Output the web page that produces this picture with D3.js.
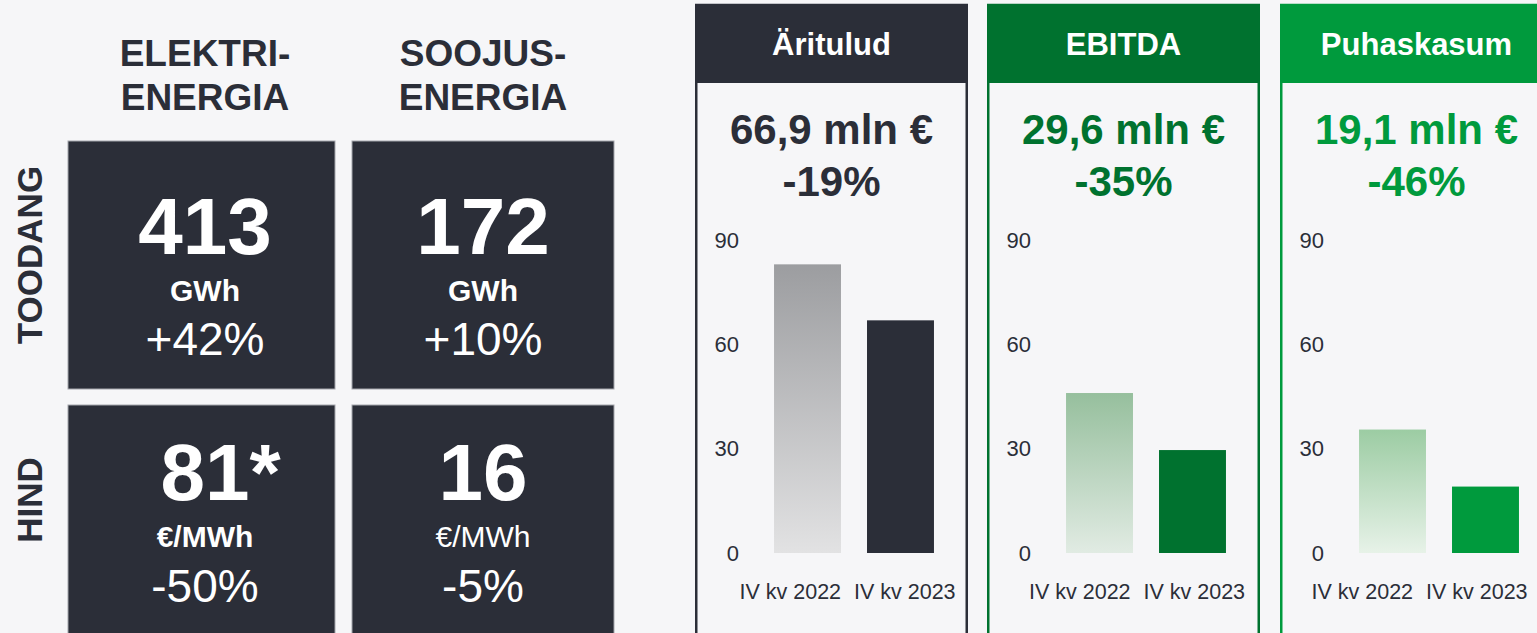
<!DOCTYPE html>
<html>
<head>
<meta charset="utf-8">
<script src="https://cdn.jsdelivr.net/npm/d3@7"></script>
<style>
  html, body { margin: 0; padding: 0; background: #f6f6f8; overflow: hidden; }
  svg { display: block; font-family: "Liberation Sans", Arial, sans-serif; }
</style>
</head>
<body>
<svg id="chart" width="1537" height="633"></svg>
<script>
// left block: production / price tiles
var columns = [["ELEKTRI-", "ENERGIA"], ["SOOJUS-", "ENERGIA"]];
var rows = ["TOODANG", "HIND"];
var tileValues = ["413", "172", "81*", "16"];
var tileUnits = ["GWh", "GWh", "€/MWh", "€/MWh"];
var tileChanges = ["+42%", "+10%", "-50%", "-5%"];

// right block: financial panels
var panelTitles = ["Äritulud", "EBITDA", "Puhaskasum"];
var panelTotals = ["66,9 mln €", "29,6 mln €", "19,1 mln €"];
var panelChanges = ["-19%", "-35%", "-46%"];
var periods = ["IV kv 2022", "IV kv 2023"];
var aritulud = [83, 66.9];
var ebitda = [46, 29.6];
var puhaskasum = [35.5, 19.1];
var yTicks = [0, 30, 60, 90];

var dark = "#2b2e38";
var panelColors = [dark, "#00722f", "#009a3d"];
var gradTop = ["#9c9da0", "#96bf9d", "#9ccca3"];
var gradBottom = ["#e2e2e3", "#e1ebe3", "#e7f2e8"];
var series = [aritulud, ebitda, puhaskasum];

var svg = d3.select("#chart");
var defs = svg.append("defs");

// ---- tiles ----
var tileX = [68, 352], tileW = [267, 262];
var tileY = [141, 405], tileH = [248, 260];
var colCenter = [205, 483];
var rowCenter = [255, 500];
// text baselines inside a tile, per row
var valueOff = [112.5, 95], unitOff = [160, 142], changeOff = [214, 196.5];

columns.forEach(function(c, i) {
  svg.append("text")
    .attr("x", colCenter[i]).attr("y", 66)
    .attr("text-anchor", "middle")
    .attr("font-size", 37).attr("font-weight", "bold")
    .attr("fill", dark)
    .selectAll("tspan").data(c).enter().append("tspan")
    .attr("x", colCenter[i])
    .attr("dy", function(d, j) { return j ? 44 : 0; })
    .text(function(d) { return d; });
});

rows.forEach(function(r, j) {
  svg.append("text")
    .attr("transform", "translate(42," + rowCenter[j] + ") rotate(-90)")
    .attr("text-anchor", "middle")
    .attr("font-size", 35).attr("font-weight", "bold")
    .attr("fill", dark)
    .text(r);
});

var tiles = [];
rows.forEach(function(r, j) {
  columns.forEach(function(c, i) { tiles.push({r: j, c: i, k: j * 2 + i}); });
});

var tile = svg.selectAll(".tile").data(tiles).enter().append("g").attr("class", "tile");

tile.append("rect")
  .attr("x", function(d) { return tileX[d.c]; })
  .attr("y", function(d) { return tileY[d.r]; })
  .attr("width", function(d) { return tileW[d.c]; })
  .attr("height", function(d) { return tileH[d.r]; })
  .attr("fill", dark)
  .attr("stroke", "#a4a5ab").attr("stroke-width", 1);

// the number is centred, a trailing footnote mark hangs to its right
tile.each(function(d) {
  var g = d3.select(this);
  var v = tileValues[d.k];
  var main = v.replace(/\*$/, "");
  var t = g.append("text")
    .attr("x", colCenter[d.c])
    .attr("y", tileY[d.r] + valueOff[d.r])
    .attr("text-anchor", "middle")
    .attr("font-size", 80).attr("font-weight", "bold")
    .attr("fill", "#fff")
    .text(main);
  if (main !== v) {
    var w = t.node().getComputedTextLength();
    g.append("text")
      .attr("x", colCenter[d.c] + w / 2)
      .attr("y", tileY[d.r] + valueOff[d.r])
      .attr("font-size", 80).attr("font-weight", "bold")
      .attr("fill", "#fff")
      .text("*");
  }
});

tile.append("text")
  .attr("x", function(d) { return colCenter[d.c]; })
  .attr("y", function(d) { return tileY[d.r] + unitOff[d.r]; })
  .attr("text-anchor", "middle")
  .attr("font-size", 30)
  .attr("font-weight", function(d) { return d.k === 3 ? "normal" : "bold"; })
  .attr("fill", "#fff")
  .text(function(d) { return tileUnits[d.k]; });

tile.append("text")
  .attr("x", function(d) { return colCenter[d.c]; })
  .attr("y", function(d) { return tileY[d.r] + changeOff[d.r]; })
  .attr("text-anchor", "middle")
  .attr("font-size", 46)
  .attr("fill", "#fff")
  .text(function(d) { return tileChanges[d.k]; });

// ---- panels ----
var panelX = [695, 987, 1280];
var panelW = 273;
var labelShift = [0, -2.5, -13];

var y = d3.scaleLinear().domain([0, 90]).range([553, 240]);
var x = d3.scaleBand().domain(periods).range([53, 265]).padding(0.28);
var xl = d3.scaleBand().domain(periods).range([38, 267]).padding(0);

panelTitles.forEach(function(title, p) {
  var g = svg.append("g").attr("transform", "translate(" + panelX[p] + ",0)");
  var col = panelColors[p];

  var gid = "grad" + p;
  var grad = defs.append("linearGradient").attr("id", gid)
    .attr("x1", 0).attr("y1", 0).attr("x2", 0).attr("y2", 1);
  grad.append("stop").attr("offset", 0).attr("stop-color", gradTop[p]);
  grad.append("stop").attr("offset", 1).attr("stop-color", gradBottom[p]);

  g.append("rect")
    .attr("x", 1.25).attr("y", 5)
    .attr("width", panelW - 2.5).attr("height", 700)
    .attr("fill", "none").attr("stroke", col).attr("stroke-width", 2.5);

  g.append("rect")
    .attr("x", 0).attr("y", 4)
    .attr("width", panelW).attr("height", 79)
    .attr("fill", col);

  g.append("text")
    .attr("x", panelW / 2).attr("y", 54.5)
    .attr("text-anchor", "middle")
    .attr("font-size", 31).attr("font-weight", "bold")
    .attr("fill", "#fff")
    .text(title);

  g.append("text")
    .attr("x", panelW / 2).attr("y", 143.5)
    .attr("text-anchor", "middle")
    .attr("font-size", 42).attr("font-weight", "bold")
    .attr("fill", col)
    .text(panelTotals[p]);

  g.append("text")
    .attr("x", panelW / 2).attr("y", 196)
    .attr("text-anchor", "middle")
    .attr("font-size", 42).attr("font-weight", "bold")
    .attr("fill", col)
    .text(panelChanges[p]);

  // y axis (labels only)
  var ya = g.append("g").attr("transform", "translate(44,0)")
    .call(d3.axisLeft(y).tickValues(yTicks).tickSize(0).tickPadding(0));
  ya.select(".domain").remove();
  ya.selectAll("text")
    .attr("font-size", 22).attr("font-family", "Liberation Sans, Arial, sans-serif")
    .attr("fill", dark);

  // x axis (labels only)
  var xa = g.append("g").attr("transform", "translate(" + labelShift[p] + ",583)")
    .call(d3.axisBottom(xl).tickSize(0).tickPadding(0));
  xa.select(".domain").remove();
  xa.selectAll("text")
    .attr("font-size", 21.5).attr("font-family", "Liberation Sans, Arial, sans-serif")
    .attr("fill", dark).attr("dy", "0.75em");

  g.selectAll(".bar").data(series[p]).enter().append("rect")
    .attr("class", "bar")
    .attr("x", function(d, i) { return x(periods[i]); })
    .attr("width", x.bandwidth())
    .attr("y", function(d) { return y(d); })
    .attr("height", function(d) { return y(0) - y(d); })
    .attr("fill", function(d, i) { return i === 0 ? "url(#" + gid + ")" : col; });
});
</script>
</body>
</html>
